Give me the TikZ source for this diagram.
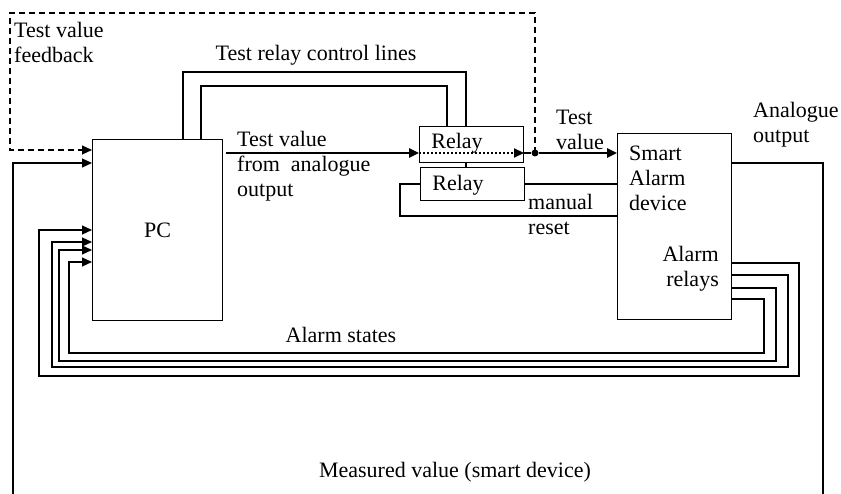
\documentclass[tikz,border=0pt]{standalone}
\usepackage{fontspec}
\setmainfont{Liberation Serif}
\usetikzlibrary{arrows.meta,calc,positioning}

\begin{document}
\begin{tikzpicture}[x=1pt,y=-1pt,
    font=\fontsize{22}{25}\selectfont,
    box/.style={draw,line width=1pt,inner sep=0pt,anchor=north west},
    wire/.style={line width=1.2pt},
    arr/.style={-{Triangle[length=10pt,width=9pt]}},
    bigarr/.style={line width=2.4pt,-{Triangle[length=10pt,width=9pt]}},
    fbline/.style={line width=1.2pt,dash pattern=on 6pt off 4pt},
    lbl/.style={inner sep=0pt,align=left}]
  \useasboundingbox (0,0) rectangle (841,494);

  % blocks
  \node[box,minimum width=130pt,minimum height=181pt] (pc) at (92,139) {PC};
  \node[box,minimum width=104pt,minimum height=36pt] (relayA) at (419,126) {};
  \node[box,minimum width=104pt,minimum height=33pt] (relayB) at (420,167) {};
  \node[box,minimum width=114pt,minimum height=186pt] (alarm) at (617,133) {};
  \node[circle,fill,inner sep=0pt,minimum size=7pt] (jn) at (535,153) {};

  % helper points
  \coordinate (ctlO) at (466,72);
  \coordinate (ctlI) at (447,86);
  \coordinate (fbR) at (535,13);
  \coordinate (fbL) at (10,13);
  \coordinate (mr) at (400,216);
  \coordinate (mvL) at (13,494);
  \coordinate (mvR) at (823,494);

  % test relay control lines
  \draw[wire] (pc.north -| 183,0) |- (ctlO) -- (relayA.north -| ctlO);
  \draw[wire] (relayA.south -| ctlO) -- (relayB.north -| ctlO);
  \draw[wire] (pc.north -| 201,0) |- (ctlI) -- (relayA.north -| ctlI);

  % test value path
  \draw[bigarr] ([xshift=3pt]pc.east |- jn) -- (relayA.west |- jn);
  \draw[line width=2.2pt,dash pattern=on 2pt off 2pt,arr] (relayA.west |- jn) -- (relayA.east |- jn);
  \draw[line width=2.4pt] (relayA.east |- jn) -- (jn);
  \draw[bigarr] (jn) -- (alarm.west |- jn);

  % feedback
  \draw[fbline,arr] (jn.center) -- (fbR) -- (fbL) |- (pc.west |- 0,150);

  % second relay and manual reset
  \draw[wire] (relayB.east) -- (alarm.west |- relayB.east);
  \draw[wire] (relayB.west) -| (mr) -- (alarm.west |- mr);

  % alarm relays to PC
  \foreach \ys/\xr/\yb/\xl/\ya in {263/799/376/39/230,275/788/367/52/242,288/776/361/59/250,299/764/353/69/262}
    \draw[wire,arr] (alarm.east |- 0,\ys) -| (\xr,\yb) -| (\xl,\ya) -- (pc.west |- 0,\ya);

  % measured value
  \draw[wire] (alarm.east |- 0,163) -| (mvR);
  \draw[wire,arr] (mvL) |- (pc.west |- 0,163);

  % labels
  \node[lbl,anchor=west] (fbtxt) at (14,42) {Test value\\feedback};
  \node[lbl] (ctltxt) at (316,55) {Test relay control lines};
  \node[lbl,anchor=west] (tvtxt) at (237,166) {Test value\\from~ analogue\\output};
  \node[lbl] (relayAtxt) at (457,143) {Relay};
  \node[lbl] (relayBtxt) at (458,185) {Relay};
  \node[lbl,anchor=west] (tv2txt) at (556,130) {Test\\value};
  \node[lbl,anchor=west] (mrtxt) at (528,214) {manual\\reset};
  \node[lbl,anchor=west] (alarmtxt) at (629,178) {Smart\\Alarm\\device};
  \node[lbl,align=right,anchor=east] (relaytxt) at (719,269) {Alarm\\relays};
  \node[lbl,anchor=west] (aotxt) at (753,125) {Analogue\\output};
  \node[lbl] (statetxt) at (341,335) {Alarm states};
  \node[lbl] (mvtxt) at (455,472) {Measured value (smart device)};
\end{tikzpicture}
\end{document}
